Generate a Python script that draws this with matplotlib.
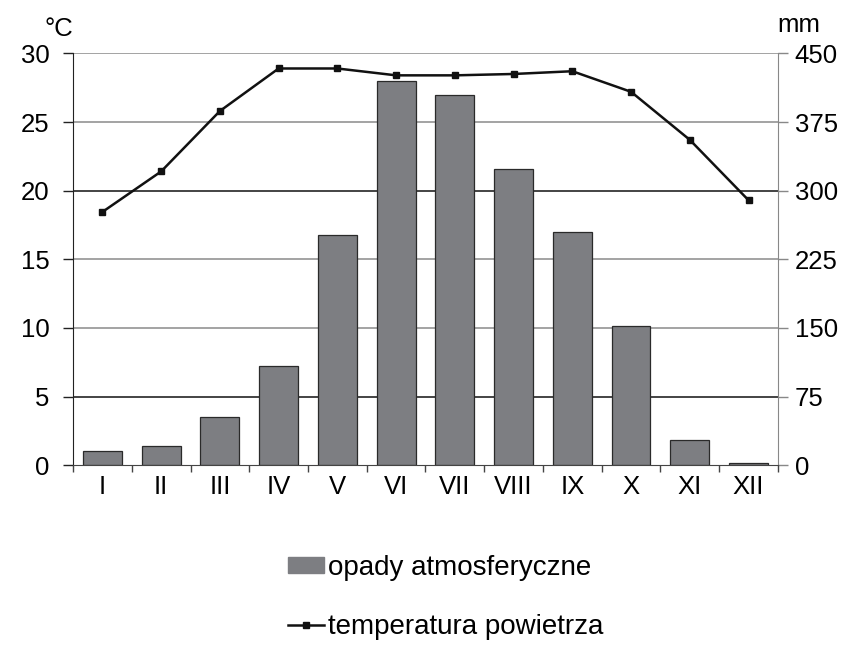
import matplotlib
matplotlib.use("Agg")
import matplotlib.pyplot as plt
import numpy as np
from matplotlib.lines import Line2D
from matplotlib.patches import Patch

plt.rcParams['font.family'] = ['Liberation Sans', 'DejaVu Sans']

months = ["I", "II", "III", "IV", "V", "VI", "VII", "VIII", "IX", "X", "XI", "XII"]
precip_mm = [15.6, 21, 53, 108, 252, 420, 405, 324, 255, 152, 28, 2.5]
temp_c = [18.45, 21.4, 25.8, 28.9, 28.9, 28.4, 28.4, 28.5, 28.7, 27.2, 23.7, 19.3]
temp_ticks = [0, 5, 10, 15, 20, 25, 30]
mm_ticks = [0, 75, 150, 225, 300, 375, 450]
dark_grid_mm = [75, 300]

fig = plt.figure(figsize=(8.47, 6.51), dpi=100)
ax = fig.add_axes([0.0862, 0.2853, 0.8323, 0.6327])
ax2 = ax.twinx()

x = np.arange(len(months))

# gridlines on mm axis (behind bars)
for v in mm_ticks[1:]:
    col = '#111111' if v in dark_grid_mm else '#8a8a8a'
    ax2.axhline(v, color=col, lw=1.1, zorder=0)

ax2.bar(x, precip_mm, width=0.66, color='#7d7e82', edgecolor='#2a2a2a', linewidth=0.9, zorder=2)
ax2.set_ylim(0, 450)
ax2.set_yticks(mm_ticks)
ax2.tick_params(axis='y', labelsize=18.5, length=7, width=1, color='#888888', pad=5, direction='out')

ax.set_zorder(ax2.get_zorder() + 1)
ax.patch.set_visible(False)
ax.plot(x, temp_c, color='#111111', lw=1.8, marker='s', markersize=4, zorder=5)
ax.set_ylim(0, 30)
ax.set_yticks(temp_ticks)
ax.set_xlim(-0.5, len(months) - 0.5)
ax.set_xticks(x)
ax.set_xticklabels(months)
ax.set_xticks(np.arange(-0.5, len(months)), minor=True)
ax.tick_params(axis='x', which='major', length=0, labelsize=18.5, pad=7)
ax.tick_params(axis='x', which='minor', length=5, width=1, color='#444444')
ax.tick_params(axis='y', labelsize=18.5, length=7, width=1, pad=10, color='#222222')

for a in (ax, ax2):
    a.spines['top'].set_visible(False)
ax.spines['right'].set_visible(False)
ax2.spines['left'].set_visible(False)
ax2.spines['bottom'].set_visible(False)
ax2.spines['right'].set_color('#888888')
ax.spines['left'].set_color('#222222')
ax.spines['bottom'].set_color('#444444')

fig.text(0.052, 0.955, '°C', fontsize=18.5, ha='left', va='center')
fig.text(0.918, 0.962, 'mm', fontsize=18.5, ha='left', va='center')

handles = [Patch(facecolor='#7d7e82', edgecolor='#7d7e82'),
           Line2D([0], [0], color='#111111', lw=1.8, marker='s', markersize=4)]
fig.legend(handles, ['opady atmosferyczne', 'temperatura powietrza'],
           loc='center left', bbox_to_anchor=(0.31, 0.082), frameon=False,
           fontsize=20, labelspacing=1.2, handlelength=1.3, handletextpad=0.15,
           handleheight=0.5)

fig.savefig('out.png', dpi=100)
